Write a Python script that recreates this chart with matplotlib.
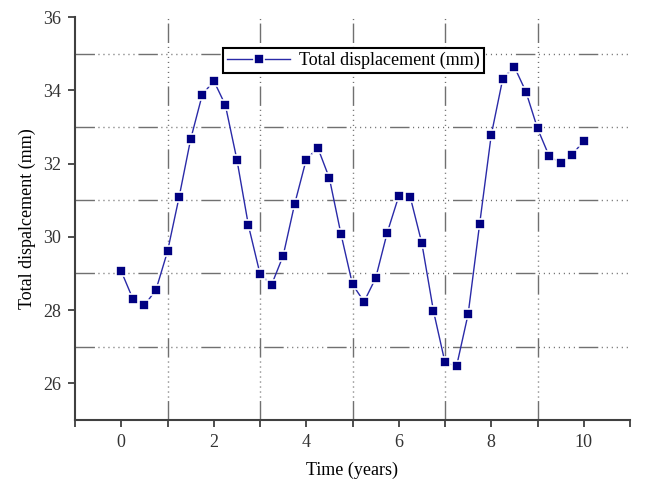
import matplotlib
matplotlib.use("Agg")
import matplotlib.pyplot as plt
from matplotlib.ticker import MultipleLocator

# time in years, quarterly samples
time_years = [0.0, 0.25, 0.5, 0.75, 1.0, 1.25, 1.5, 1.75, 2.0, 2.25,
              2.5, 2.75, 3.0, 3.25, 3.5, 3.75, 4.0, 4.25, 4.5, 4.75,
              5.0, 5.25, 5.5, 5.75, 6.0, 6.25, 6.5, 6.75, 7.0, 7.25,
              7.5, 7.75, 8.0, 8.25, 8.5, 8.75, 9.0, 9.25, 9.5, 9.75, 10.0]
displacement = [29.06, 28.31, 28.13, 28.55, 29.60, 31.08, 32.66, 33.87, 34.26, 33.60,
                32.11, 30.31, 28.99, 28.69, 29.48, 30.90, 32.11, 32.43, 31.60, 30.08,
                28.70, 28.23, 28.87, 30.11, 31.11, 31.08, 29.82, 27.98, 26.57, 26.47,
                27.89, 30.36, 32.78, 34.32, 34.64, 33.96, 32.96, 32.21, 32.01, 32.24, 32.62]

x_ticks = [0, 2, 4, 6, 8, 10]
y_ticks = [26, 28, 30, 32, 34, 36]

plt.rcParams['font.family'] = ['Liberation Serif', 'DejaVu Serif']

fig = plt.figure(figsize=(6.48, 4.86), dpi=100)
ax = fig.add_axes([75/648, 1 - 420/486, 555/648, 403/486])

axis_col = '#404040'
# long dash followed by a run of dots (Origin-like grid)
grid_style = (0, (14, 2.5) + (0.8, 2.8) * 8)

ax.plot(time_years, displacement, color='#2a2aa8', linewidth=1.0,
        marker='s', markersize=7.5, markerfacecolor='#000080',
        markeredgecolor='white', markeredgewidth=1.2,
        label='Total displacement (mm)', zorder=3)

ax.set_xlim(-1, 11)
ax.set_ylim(25, 36)
ax.set_xticks(x_ticks)
ax.set_yticks(y_ticks)
ax.xaxis.set_minor_locator(MultipleLocator(1))
ax.yaxis.set_minor_locator(MultipleLocator(1))

# grid only on the odd (minor) positions, like the original
for xv in [1, 3, 5, 7, 9]:
    ax.axvline(xv, color='#707070', linewidth=1.0, linestyle=grid_style, zorder=1)
for yv in [27, 29, 31, 33, 35]:
    ax.axhline(yv, color='#707070', linewidth=1.0, linestyle=grid_style, zorder=1)

for side in ['top', 'right']:
    ax.spines[side].set_visible(False)
for side in ['left', 'bottom']:
    ax.spines[side].set_color(axis_col)
    ax.spines[side].set_linewidth(1.5)

ax.tick_params(axis='both', which='major', direction='out', length=5, width=1.3,
               color=axis_col, labelcolor='#333333', labelsize=13, pad=5)
ax.tick_params(axis='x', which='minor', direction='out', length=5, width=1.3, color=axis_col)
ax.tick_params(axis='y', which='minor', length=0)

ax.set_xlabel('Time (years)', fontsize=13, labelpad=8)
ax.set_ylabel('Total dispalcement (mm)', fontsize=13, labelpad=5)

leg = ax.legend(loc='upper left', bbox_to_anchor=(0.251, 0.945), fontsize=13,
                fancybox=False, framealpha=1, edgecolor='black',
                handlelength=3.5, borderpad=0.2, handletextpad=0.5)
leg.get_frame().set_linewidth(1.5)

fig.savefig('out.png', dpi=100)
